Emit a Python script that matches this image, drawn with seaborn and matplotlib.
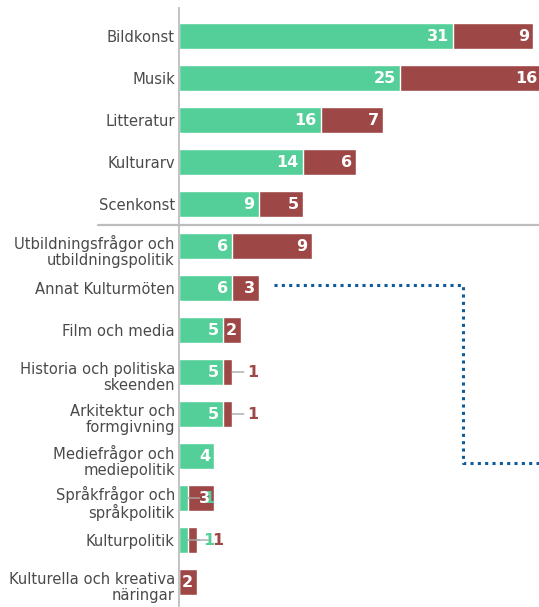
import matplotlib
matplotlib.use("Agg")
import matplotlib.pyplot as plt
import matplotlib.transforms as mtransforms
import numpy as np
import seaborn as sns

# categories, top to bottom
categories = [
    "Bildkonst", "Musik", "Litteratur", "Kulturarv", "Scenkonst",
    "Utbildningsfrågor och\nutbildningspolitik", "Annat Kulturmöten",
    "Film och media", "Historia och politiska\nskeenden",
    "Arkitektur och\nformgivning", "Mediefrågor och\nmediepolitik",
    "Språkfrågor och\nspråkpolitik", "Kulturpolitik",
    "Kulturella och kreativa\nnäringar",
]
green_vals = [31, 25, 16, 14, 9, 6, 6, 5, 5, 5, 4, 1, 1, 0]
red_vals = [9, 16, 7, 6, 5, 9, 3, 2, 1, 1, 0, 3, 1, 2]

GREEN = "#55CF9A"
RED = "#9E4747"
GREY = "#bdbdbd"
TEXT = "#4a4a4a"

green = np.array(green_vals)
red = np.array(red_vals)
totals = green + red

sns.set_style("white")
plt.rcParams["font.family"] = ["DejaVu Sans"]

fig = plt.figure(figsize=(5.39, 6.07), dpi=100)
ax = fig.add_axes([179 / 539, 0, 360 / 539, 599 / 607])

# stacked: total in red below, green on top
sns.barplot(x=totals, y=categories, order=categories, color=RED, saturation=1,
            width=0.64, edgecolor="white", linewidth=1, orient="h", ax=ax)
sns.barplot(x=green, y=categories, order=categories, color=GREEN, saturation=1,
            width=0.64, edgecolor="white", linewidth=1, orient="h", ax=ax)

ax.set_xlim(0, 40.68)
ax.set_ylim(13.595, -0.667)
ax.set_xlabel("")
ax.set_ylabel("")
ax.set_xticks([])
for s in ["top", "right", "bottom"]:
    ax.spines[s].set_visible(False)
ax.spines["left"].set_color(GREY)
ax.spines["left"].set_linewidth(1.3)
ax.tick_params(axis="y", length=0, pad=3, labelsize=10.6, labelcolor=TEXT)
shift = mtransforms.ScaledTranslation(0, -3 / 100, fig.dpi_scale_trans)
for lbl in ax.get_yticklabels():
    lbl.set_verticalalignment("center_baseline")
    lbl.set_linespacing(1.1)
    if "\n" in lbl.get_text():
        lbl.set_transform(lbl.get_transform() + shift)

# value labels
for i in range(len(categories)):
    segs = [(green[i], green[i], GREEN), (red[i], totals[i], RED)]
    for val, end, col in segs:
        if val == 0:
            continue
        if val >= 2:
            ax.annotate(str(val), xy=(end, i), xytext=(-4, 0),
                        textcoords="offset pixels", ha="right", va="center",
                        color="white", fontweight="bold", fontsize=11.5,
                        annotation_clip=False)
        else:
            ax.annotate(str(val), xy=(end, i), xytext=(15, 0),
                        textcoords="offset pixels", ha="left", va="center",
                        color=col, fontweight="bold", fontsize=11.5,
                        arrowprops=dict(arrowstyle="-", color="#a8a8a8", lw=1,
                                        shrinkA=0, shrinkB=0))

# separator between the two groups
ax.axhline(4.5, xmin=-0.225, xmax=1, color=GREY, lw=1.6, clip_on=False)

# dotted bracket
bx = [10.73, 32.1, 32.1, 40.68]
by = [5.93, 5.93, 10.17, 10.17]
ax.plot(bx, by, color="#0d5a9c", lw=2.2, linestyle=(0, (1, 1.4)),
        dash_capstyle="butt", clip_on=False)

fig.savefig("out.png", dpi=100)
